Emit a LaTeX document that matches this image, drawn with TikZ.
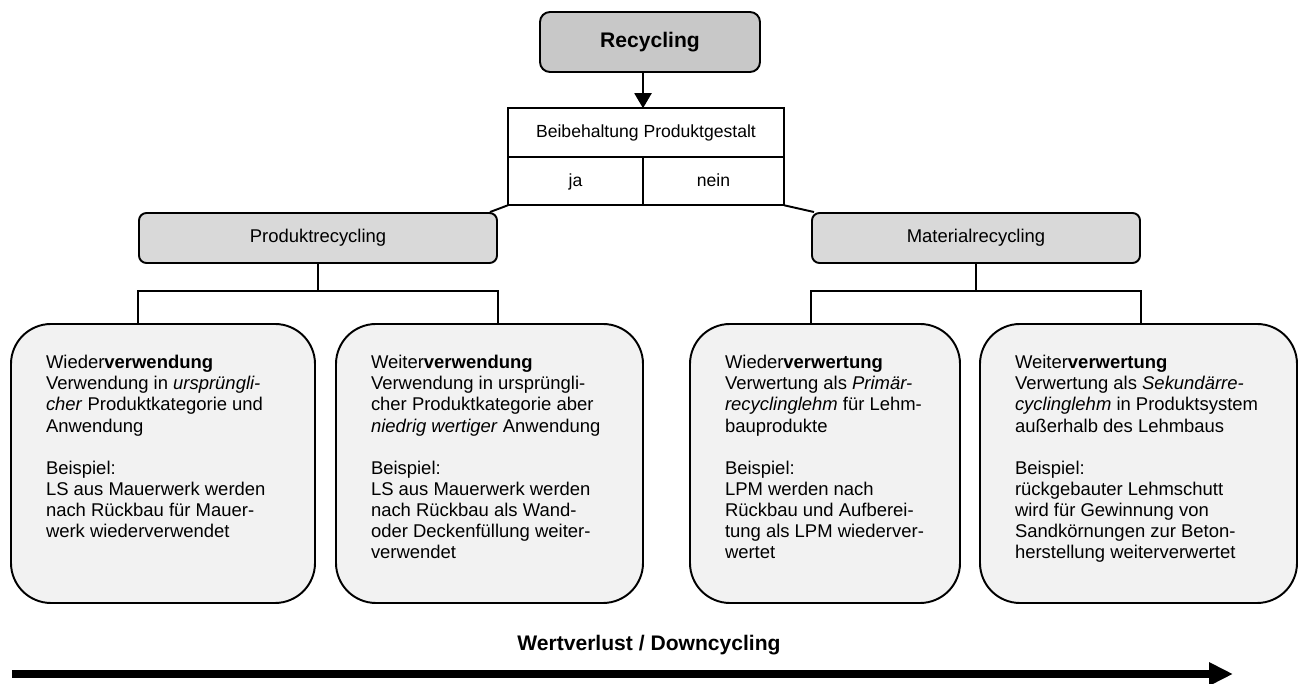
\documentclass[tikz,border=0pt]{standalone}
\usepackage{fontspec}
\setmainfont{Liberation Sans}
\usepackage{tikz}
\usetikzlibrary{positioning,arrows.meta}
\definecolor{rcDark}{RGB}{200,200,200}
\definecolor{rcMid}{RGB}{217,217,217}
\definecolor{rcLight}{RGB}{242,242,242}
\newcommand{\cardtext}[2]{\parbox[c][4.38cm][t]{#1}{\begin{tabular}[t]{@{}l@{}}#2\end{tabular}}}

\begin{document}
\begin{tikzpicture}[font=\fontsize{10.5}{12}\selectfont,line width=1.1pt,
  recbox/.style={draw,rounded corners=0.2cm,fill=rcDark,minimum width=4.4cm,minimum height=1.2cm,font=\bfseries\fontsize{12}{14}\selectfont},
  cell/.style={draw,minimum height=0.97cm,inner sep=0pt,outer sep=0pt,text height=1.6ex,text depth=0.45ex,font=\fontsize{10}{12}\selectfont},
  cat/.style={draw,rounded corners=0.15cm,fill=rcMid,minimum height=1cm,inner sep=0pt},
  card/.style={draw,rounded corners=0.8cm,fill=rcLight,minimum height=5.58cm,inner sep=0pt}]
\useasboundingbox (0,0) rectangle (26.08,13.68);
\node[recbox] (rec) at (13.0,12.84) {Recycling};
\node[cell,minimum width=5.52cm] (beib) at (12.92,11.03) {Beibehaltung Produktgestalt};
\node[cell,minimum width=2.7cm,below right=0pt and 0pt of beib.south west] (ja) {ja};
\node[cell,minimum width=2.82cm,right=0pt of ja] (nein) {nein};
\node[cat,minimum width=7.16cm] (prod) at (6.36,8.92) {Produktrecycling};
\node[cat,minimum width=6.56cm] (mat) at (19.52,8.92) {Materialrecycling};
% Kategorien
\node[card,minimum width=6.08cm] (wvw) at (3.26,4.41) {\cardtext{4.68cm}{Wieder\textbf{verwendung}\\
  Verwendung in \textit{ursprüngli-}\\ \textit{cher} Produktkategorie und\\ Anwendung\\ \\
  Beispiel:\\ LS aus Mauerwerk werden\\ nach Rückbau für Mauer-\\ werk wiederverwendet}};
\node[card,minimum width=6.14cm] (wtw) at (9.79,4.41) {\cardtext{4.74cm}{Weiter\textbf{verwendung}\\
  Verwendung in ursprüngli-\\ cher Produktkategorie aber\\ \textit{niedrig wertiger} Anwendung\\ \\
  Beispiel:\\ LS aus Mauerwerk werden\\ nach Rückbau als Wand-\\ oder Deckenfüllung weiter-\\ verwendet}};
\node[card,minimum width=5.4cm] (wdv) at (16.5,4.41) {\cardtext{4.0cm}{Wieder\textbf{verwertung}\\
  Verwertung als \textit{Primär-}\\ \textit{recyclinglehm} für Lehm-\\ bauprodukte\\ \\
  Beispiel:\\ LPM werden nach\\ Rückbau und Aufberei-\\ tung als LPM wiederver-\\ wertet}};
\node[card,minimum width=6.34cm] (wtv) at (22.77,4.41) {\cardtext{4.94cm}{Weiter\textbf{verwertung}\\
  Verwertung als \textit{Sekundärre-}\\ \textit{cyclinglehm} in Produktsystem\\ außerhalb des Lehmbaus\\ \\
  Beispiel:\\ rückgebauter Lehmschutt\\ wird für Gewinnung von\\ Sandkörnungen zur Beton-\\ herstellung weiterverwertet}};
% Verbindungen
\draw[-{Triangle[length=0.3cm,width=0.34cm]}] (rec.south -| ja.east) -- (beib.north -| ja.east);
\draw (ja.south west) -- ([xshift=-0.16cm]prod.north east);
\draw (nein.south east) -- ([xshift=0.06cm]mat.north west);
\coordinate[below=0.54cm of prod] (pj);
\coordinate[below=0.54cm of mat] (mj);
\draw (prod) -- (pj);
\draw (wvw.north -| prod.west) |- (pj) -| (wtw.north -| prod.east);
\draw (mat) -- (mj);
\draw (wdv.north -| mat.west) |- (mj) -| (wtv.north -| mat.east);
% Pfeil unten
\coordinate (ws) at (0.24,0.2);
\coordinate (we) at (24.66,0.2);
\draw[line width=0.16cm,-{Triangle[length=0.48cm,width=0.44cm]}] (ws) -- (we);
\node[font=\bfseries\fontsize{12}{14}\selectfont] (wv) at (12.98,0.78) {Wertverlust / Downcycling};
\end{tikzpicture}
\end{document}
